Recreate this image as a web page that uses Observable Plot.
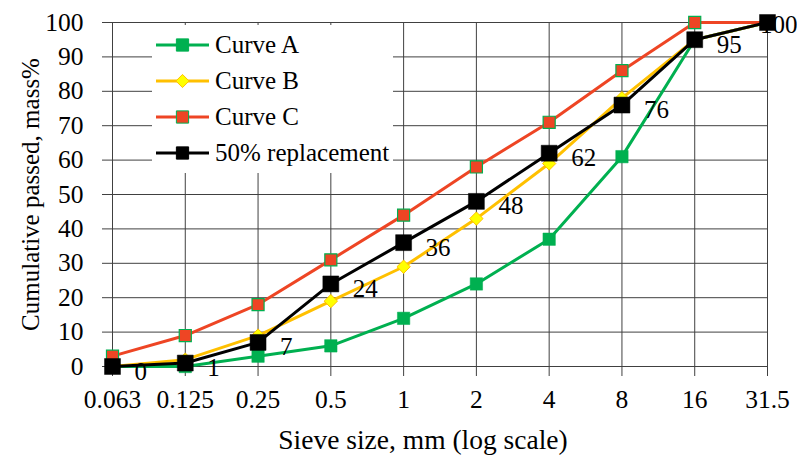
<!DOCTYPE html>
<html>
<head>
<meta charset="utf-8">
<script src="https://cdn.jsdelivr.net/npm/d3@7"></script>
<script src="https://cdn.jsdelivr.net/npm/@observablehq/plot@0.6"></script>
<style>
  html, body { margin: 0; padding: 0; background: white; }
  #wrap { position: relative; width: 797px; height: 462px; font-family: "Liberation Serif", serif; }
  #chart svg, #chart svg text { font-family: "Liberation Serif", serif !important; }
  #legend { position: absolute; left: 152px; top: 25px; background: white; padding: 2px 4px 2px 4px; }
  .row { display: flex; align-items: center; height: 36px; font-size: 25px; line-height: 36px; color: #000; }
  .row svg { margin-right: 4px; display: block; }
</style>
</head>
<body>
<div id="wrap"><div id="chart"></div><div id="legend"></div></div>
<script>
const sizes = ["0.063", "0.125", "0.25", "0.5", "1", "2", "4", "8", "16", "31.5"];
const curveA = [0, 0, 3, 6, 14, 24, 37, 61, 95, 100];
const curveB = [0, 2, 9, 19, 29, 43, 59, 78, 95, 100];
const curveC = [3, 9, 18, 31, 44, 58, 71, 86, 100, 100];
const replacement = [0, 1, 7, 24, 36, 48, 62, 76, 95, 100];
const seriesNames = ["Curve A", "Curve B", "Curve C", "50% replacement"];
const yTicks = [0, 10, 20, 30, 40, 50, 60, 70, 80, 90, 100];

const toRows = (vals) => sizes.map((s, i) => ({size: s, value: vals[i]}));
const A = toRows(curveA), B = toRows(curveB), C = toRows(curveC), R = toRows(replacement);
const Rmain = R.slice(0, R.length - 1), Rlast = R.slice(R.length - 1);

const GREEN = "#00B050", YEL = "#FFC000", YFILL = "#FFFF00", RED = "#EE4524", BLK = "#000000";
const FONT = "Liberation Serif";

const chart = Plot.plot({
  width: 797, height: 462,
  marginLeft: 112, marginRight: 30, marginTop: 22, marginBottom: 96,
  style: {fontFamily: FONT, fontSize: "25px", background: "white", color: "#000"},
  x: {type: "point", domain: sizes, padding: 0, round: false},
  y: {domain: [0, 100]},
  marks: [
    Plot.gridY(yTicks, {stroke: "#404040", strokeOpacity: 1, strokeWidth: 1}),
    Plot.gridX(sizes, {stroke: "#404040", strokeOpacity: 1, strokeWidth: 1}),
    Plot.axisY(yTicks, {tickSize: 10, tickPadding: 19, stroke: "#404040", label: null, fontSize: 25.5, fontFamily: FONT}),
    Plot.axisX(sizes, {tickSize: 10, tickPadding: 13, stroke: "#404040", label: null, fontSize: 25.5, fontFamily: FONT}),
    Plot.text(["Cumulative passed, mass%"], {frameAnchor: "left", rotate: -90, dx: -82, fontSize: 25, fontFamily: FONT, textAnchor: "middle", lineAnchor: "middle"}),
    Plot.text(["Sieve size, mm (log scale)"], {frameAnchor: "bottom", dx: -17, dy: 74, fontSize: 27.5, fontFamily: FONT, textAnchor: "middle", lineAnchor: "middle"}),
    Plot.line(A, {x: "size", y: "value", stroke: GREEN, strokeWidth: 3}),
    Plot.dot(A, {x: "size", y: "value", symbol: "square", r: 7, fill: GREEN, stroke: GREEN, strokeWidth: 0.5}),
    Plot.line(B, {x: "size", y: "value", stroke: YEL, strokeWidth: 3}),
    Plot.dot(B, {x: "size", y: "value", symbol: "diamond2", r: 6, fill: YFILL, stroke: YEL, strokeWidth: 1}),
    Plot.line(C, {x: "size", y: "value", stroke: RED, strokeWidth: 3}),
    Plot.dot(C, {x: "size", y: "value", symbol: "square", r: 6.8, fill: RED, stroke: GREEN, strokeWidth: 1.2}),
    Plot.text(Rmain, {x: "size", y: "value", text: d => String(d.value), dx: 22, dy: 5, textAnchor: "start", fontSize: 25, fontFamily: FONT, fill: "#000"}),
    Plot.text(Rlast, {x: "size", y: "value", text: d => String(d.value), dx: 30, dy: 2, textAnchor: "end", fontSize: 25, fontFamily: FONT, fill: "#000"}),
    Plot.line(R, {x: "size", y: "value", stroke: BLK, strokeWidth: 3}),
    Plot.dot(R, {x: "size", y: "value", symbol: "square", r: 9, fill: BLK, stroke: BLK, strokeWidth: 0.5})
  ]
});
document.getElementById("chart").appendChild(chart);

// legend
const legendSpecs = [
  {stroke: GREEN, symbol: d3.symbolSquare, size: 150, fill: GREEN, mstroke: GREEN},
  {stroke: YEL, symbol: d3.symbolDiamond2, size: 110, fill: YFILL, mstroke: YEL},
  {stroke: RED, symbol: d3.symbolSquare, size: 150, fill: RED, mstroke: GREEN},
  {stroke: BLK, symbol: d3.symbolSquare, size: 150, fill: BLK, mstroke: BLK}
];
const legend = d3.select("#legend");
seriesNames.forEach((name, i) => {
  const s = legendSpecs[i];
  const row = legend.append("div").attr("class", "row");
  const svg = row.append("svg").attr("width", 55).attr("height", 20);
  svg.append("line").attr("x1", 0).attr("x2", 53).attr("y1", 10).attr("y2", 10)
    .attr("stroke", s.stroke).attr("stroke-width", 3);
  svg.append("path").attr("d", d3.symbol(s.symbol, s.size)()).attr("transform", "translate(26.5,10)")
    .attr("fill", s.fill).attr("stroke", s.mstroke).attr("stroke-width", 1);
  row.append("span").text(name);
});
</script>
</body>
</html>
